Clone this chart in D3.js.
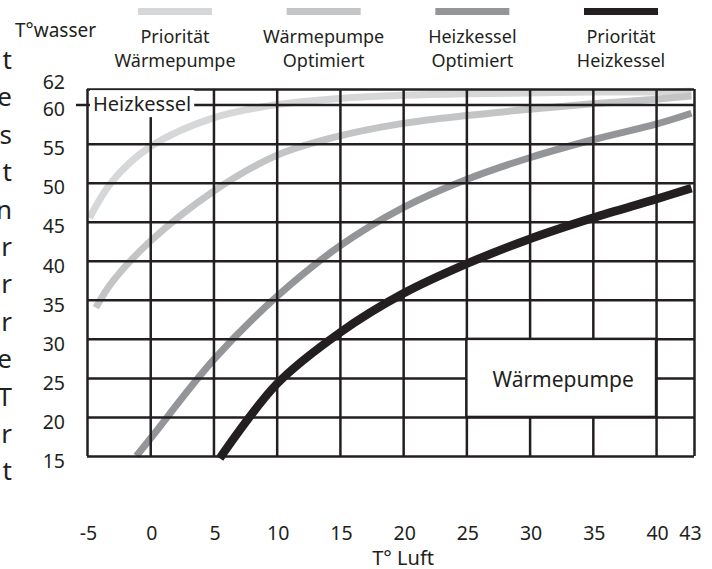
<!DOCTYPE html>
<html>
<head>
<meta charset="utf-8">
<script src="https://cdn.jsdelivr.net/npm/d3@7"></script>
<style>
  body { margin: 0; background: #fff; }
  svg { display: block; font-family: "Noto Sans", sans-serif; }
</style>
</head>
<body>
<svg width="712" height="569"></svg>
<script>
// tick values of both axes
var xTicks = [-5, 0, 5, 10, 15, 20, 25, 30, 35, 40, 43];
var yTicks = [15, 20, 25, 30, 35, 40, 45, 50, 55, 60, 62];

// legend labels (two lines each)
var legendNames = [
  ["Priorität", "Wärmepumpe"],
  ["Wärmepumpe", "Optimiert"],
  ["Heizkessel", "Optimiert"],
  ["Priorität", "Heizkessel"]
];
var colors = ["#d6d7d8", "#c3c4c6", "#939598", "#231f20"];

// curves: [T° Luft, T°wasser]
var prioWaermepumpe = [[-4.8, 45.5], [-3, 50.2], [0, 54.6], [5, 58.3], [10, 60], [15, 60.8],
  [20, 61.2], [25, 61.4], [30, 61.5], [35, 61.6], [40, 61.6], [42.8, 61.7]];
var waermepumpeOpt = [[-4.3, 34], [-3, 37.3], [0, 42.5], [5, 48.9], [10, 53.5], [15, 56.0],
  [20, 57.6], [25, 58.6], [30, 59.4], [35, 60.1], [40, 60.7], [42.8, 61.1]];
var heizkesselOpt = [[-1.1, 15], [0, 17.2], [5, 27.3], [10, 35.4], [15, 41.9], [20, 46.8],
  [25, 50.4], [30, 53.2], [35, 55.5], [40, 57.5], [42.8, 58.9]];
var prioHeizkessel = [[5.5, 14.7], [10, 24.2], [15, 30.8], [20, 35.8], [25, 39.6], [30, 42.8],
  [35, 45.5], [40, 47.9], [42.8, 49.3]];
var series = [prioWaermepumpe, waermepumpeOpt, heizkesselOpt, prioHeizkessel];

// cut-off text at the left border
var sideLetters = ["t", "e", "s", "t", "n", "r", "r", "r", "e", "T", "r", "t"];

var ink = "#231f20";
var svg = d3.select("svg");

var x = d3.scaleLinear().domain([-5, 43]).range([87, 694]);
var y = d3.scaleLinear().domain([15, 62]).range([456, 89]);

// curves first, the grid is drawn over them
var line = d3.line()
  .x(function(d) { return x(d[0]); })
  .y(function(d) { return y(d[1]); })
  .curve(d3.curveCatmullRom.alpha(0.5));

svg.append("g").selectAll("path")
  .data(series)
  .enter().append("path")
    .attr("d", line)
    .attr("fill", "none")
    .attr("stroke", function(d, i) { return colors[i]; })
    .attr("stroke-width", function(d, i) { return i == 3 ? 8.5 : 7; })
    .attr("stroke-linecap", "butt");

// vertical grid
var xGrid = svg.append("g")
  .attr("transform", "translate(0," + y(15) + ")")
  .call(d3.axisBottom(x).tickValues(xTicks).tickSize(-(y(15) - y(62))).tickFormat(""));
// horizontal grid
var yGrid = svg.append("g")
  .attr("transform", "translate(" + x(-5) + ",0)")
  .call(d3.axisLeft(y).tickValues(yTicks).tickSize(-(x(43) - x(-5))).tickFormat(""));

[xGrid, yGrid].forEach(function(g) {
  g.select(".domain").remove();
  g.selectAll("line").attr("stroke", ink).attr("stroke-width", 2.5);
});
// small outside tick at 60
yGrid.selectAll(".tick").filter(function(d) { return d == 60; })
  .select("line").attr("x1", -11);

// x labels
var xLab = svg.append("g")
  .attr("transform", "translate(0," + y(15) + ")")
  .call(d3.axisBottom(x).tickValues(xTicks).tickSize(0).tickPadding(70).tickFormat(String));
xLab.select(".domain").remove();
xLab.selectAll("text")
  .attr("font-family", "Noto Sans").attr("font-size", 19.5).attr("fill", ink)
  .attr("x", function(d) { return d == 43 ? -4 : 1; });

// y labels
var yLab = svg.append("g")
  .attr("transform", "translate(" + x(-5) + ",0)")
  .call(d3.axisLeft(y).tickValues(yTicks).tickSize(0).tickPadding(22).tickFormat(String));
yLab.select(".domain").remove();
yLab.selectAll("text")
  .attr("font-family", "Noto Sans").attr("font-size", 19.5).attr("fill", ink)
  .attr("y", function(d) { return d == 62 ? -7 : 5; });

// Heizkessel label on the 60 line
var hk = svg.append("g");
var hkText = hk.append("text")
  .attr("x", x(-5) + 6)
  .attr("y", y(60) + 6.5)
  .attr("font-size", 20)
  .attr("fill", ink)
  .text("Heizkessel");
var bb = hkText.node().getBBox();
hk.insert("rect", "text")
  .attr("x", bb.x - 3).attr("y", bb.y)
  .attr("width", bb.width + 6).attr("height", bb.height)
  .attr("fill", "#fff");

// Wärmepumpe box
svg.append("rect")
  .attr("x", x(25)).attr("y", y(30))
  .attr("width", x(40) - x(25)).attr("height", y(20) - y(30))
  .attr("fill", "#fff").attr("stroke", ink).attr("stroke-width", 2.5);
svg.append("text")
  .attr("x", (x(25) + x(40)) / 2 + 2)
  .attr("y", (y(20) + y(30)) / 2 + 9)
  .attr("text-anchor", "middle")
  .attr("font-size", 21)
  .attr("fill", ink)
  .text("Wärmepumpe");

// axis titles
svg.append("text")
  .attr("x", 15).attr("y", 37)
  .attr("font-size", 19).attr("fill", ink)
  .text("T°wasser");
svg.append("text")
  .attr("x", x(20)).attr("y", 565)
  .attr("text-anchor", "middle")
  .attr("font-size", 20).attr("fill", ink)
  .text("T° Luft");

// legend
var lx = d3.scalePoint().domain(d3.range(legendNames.length)).range([175, 621]);
var leg = svg.append("g").selectAll("g")
  .data(legendNames)
  .enter().append("g")
    .attr("transform", function(d, i) { return "translate(" + lx(i) + ",0)"; });
leg.append("rect")
  .attr("x", -37).attr("y", 8)
  .attr("width", 74).attr("height", 7)
  .attr("fill", function(d, i) { return colors[i]; });
leg.selectAll("text")
  .data(function(d) { return d; })
  .enter().append("text")
    .attr("y", function(d, j) { return 43 + j * 23.5; })
    .attr("text-anchor", "middle")
    .attr("font-size", 18)
    .attr("fill", ink)
    .text(function(d) { return d; });

// letters cut off at the left edge
svg.append("g").selectAll("text")
  .data(sideLetters)
  .enter().append("text")
    .attr("x", 12)
    .attr("y", function(d, i) { return 69 + i * 37.4; })
    .attr("text-anchor", "end")
    .attr("font-size", 26)
    .attr("fill", ink)
    .text(function(d) { return d; });
</script>
</body>
</html>
